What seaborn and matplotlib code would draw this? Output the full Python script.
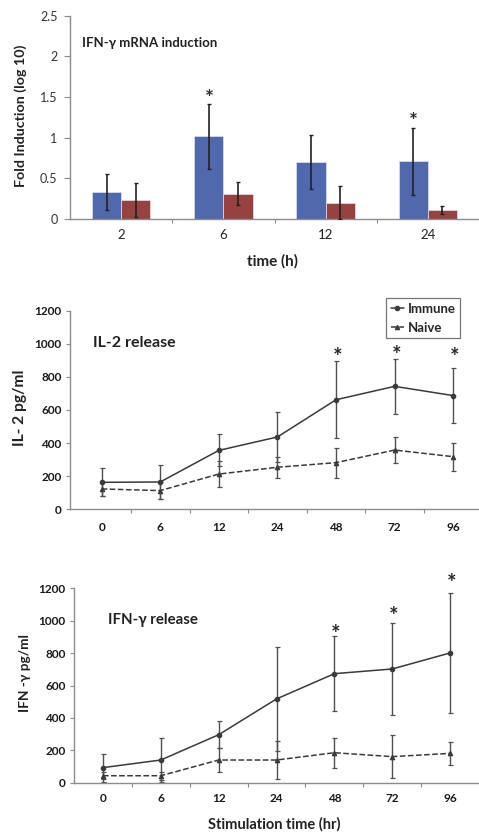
import numpy as np
import pandas as pd
import matplotlib
matplotlib.use("Agg")
import matplotlib.pyplot as plt
import seaborn as sns
from matplotlib.ticker import FixedLocator

sns.set_theme(style="white")
plt.rcParams['font.family'] = ['Lato', 'DejaVu Sans']

# ---------------- data ----------------
mrna_times = ["2", "6", "12", "24"]
mrna_immune = [0.33, 1.02, 0.70, 0.71]
mrna_immune_err = [0.22, 0.40, 0.33, 0.41]
mrna_naive = [0.23, 0.31, 0.20, 0.11]
mrna_naive_err = [0.21, 0.14, 0.20, 0.05]
mrna_sig = [("6", 1.54), ("24", 1.26)]

stim_times = ["0", "6", "12", "24", "48", "72", "96"]
il2_immune = [163, 165, 356, 437, 662, 743, 687]
il2_immune_err = [85, 103, 97, 149, 232, 165, 168]
il2_naive = [123, 113, 213, 254, 282, 358, 318]
il2_naive_err = [43, 53, 80, 63, 91, 81, 85]
il2_sig = [("48", 952), ("72", 962), ("96", 948)]

ifn_immune = [93, 140, 296, 517, 673, 702, 801]
ifn_immune_err = [87, 134, 82, 319, 232, 284, 370]
ifn_naive = [43, 43, 140, 140, 185, 161, 181]
ifn_naive_err = [22, 25, 73, 119, 92, 131, 71]
ifn_sig = [("48", 947), ("72", 1060), ("96", 1262)]

BLUE = "#5069AD"
RED = "#954240"
LINE = "#3a3a3a"
ERR = "#505050"
SPINE = "#8c8c8c"

fig = plt.figure(figsize=(4.79, 8.32), dpi=100)
W, H = 479.0, 832.0

def add_ax(left, right, top, bottom):
    return fig.add_axes([left / W, 1 - bottom / H, (right - left) / W, (bottom - top) / H])

def star(ax, x, y, size):
    ax.annotate("*", (x, y), xytext=(0, -4), textcoords="offset points",
                ha="center", va="center", fontsize=size, fontweight="bold",
                color="#2a2a2a", annotation_clip=False)

# ---------------- panel 1: bars ----------------
ax1 = add_ax(70, 479, 15.7, 219)
df1 = pd.DataFrame({
    "time": mrna_times * 2,
    "value": mrna_immune + mrna_naive,
    "group": ["Immune"] * 4 + ["Naive"] * 4,
})
sns.barplot(data=df1, x="time", y="value", hue="group", order=mrna_times,
            palette={"Immune": BLUE, "Naive": RED}, errorbar=None,
            width=0.57, gap=0, ax=ax1, legend=False, saturation=1,
            edgecolor="#d9d9e6", linewidth=0.6)
for cont, err in zip(ax1.containers, [mrna_immune_err, mrna_naive_err]):
    xs = [p.get_x() + p.get_width() / 2 for p in cont]
    ys = [p.get_height() for p in cont]
    ax1.errorbar(xs, ys, yerr=err, fmt="none", ecolor="#222222",
                 elinewidth=1.2, capsize=1.5, capthick=1.0, zorder=5)
for t, y in mrna_sig:
    star(ax1, mrna_times.index(t) - 0.14, y, 15)
ax1.text(-0.38, 2.16, "IFN-γ mRNA induction", fontsize=9.5, fontweight="bold",
         color="#222222", va="center")
ax1.set_xlim(-0.5, 3.5)
ax1.set_ylim(0, 2.5)
ax1.set_yticks([0, 0.5, 1, 1.5, 2, 2.5])
ax1.set_yticklabels(["0", "0.5", "1", "1.5", "2", "2.5"])
ax1.xaxis.set_minor_locator(FixedLocator([0.5, 1.5, 2.5, 3.5]))
ax1.tick_params(axis="y", left=True, length=4, width=0.8, color=SPINE,
                labelsize=9, labelcolor="#333333", pad=5)
ax1.tick_params(axis="x", which="major", bottom=False, length=0, labelsize=9.5,
                labelcolor="#222222", pad=7)
ax1.tick_params(axis="x", which="minor", bottom=True, length=3, width=0.8,
                color=SPINE, direction="out")
ax1.set_xlabel("time (h)", fontsize=11, fontweight="bold", color="#222222")
ax1.set_ylabel("Fold Induction (log 10)", fontsize=10.3, fontweight="bold",
               color="#222222")
ax1.xaxis.set_label_coords(0.494, -0.175)
ax1.yaxis.set_label_coords(-0.105, 0.507)
for s in ["top", "right"]:
    ax1.spines[s].set_visible(False)
for s in ["left", "bottom"]:
    ax1.spines[s].set_color(SPINE)
    ax1.spines[s].set_linewidth(1.0)


# ---------------- line panels ----------------
def line_panel(ax, imm, imm_err, nai, nai_err, sig, title, title_xy, title_size,
               ylabel, ylabel_y, ylabel_size, xpad, xlabel=None, legend=False):
    df = pd.DataFrame({
        "time": stim_times * 2,
        "value": imm + nai,
        "group": ["Immune"] * len(stim_times) + ["Naive"] * len(stim_times),
    })
    sns.pointplot(data=df, x="time", y="value", hue="group", order=stim_times,
                  palette={"Immune": LINE, "Naive": LINE},
                  markers=["o", "^"], linestyles=["-", "--"],
                  errorbar=None, markersize=3.2, linewidth=1.1, ax=ax,
                  legend=legend)
    xs = np.arange(len(stim_times))
    ax.errorbar(xs, imm, yerr=imm_err, fmt="none", ecolor=ERR,
                elinewidth=1.0, capsize=1.8, capthick=0.9, zorder=1)
    ax.errorbar(xs, nai, yerr=nai_err, fmt="none", ecolor=ERR,
                elinewidth=1.0, capsize=1.8, capthick=0.9, zorder=1)
    for t, y in sig:
        star(ax, stim_times.index(t) + 0.03, y, 16)
    ax.text(title_xy[0], title_xy[1], title, fontsize=title_size, fontweight="bold",
            color="#222222", va="center")
    ax.set_ylim(0, 1200)
    yt = list(range(0, 1201, 200))
    ax.set_yticks(yt, [str(v) for v in yt], fontweight="bold")
    ax.set_xticks(xs, stim_times, fontweight="bold")
    ax.xaxis.set_minor_locator(FixedLocator(np.arange(0.5, 6.5, 1.0)))
    ax.tick_params(axis="y", left=True, length=3, width=0.8, color=SPINE,
                   labelsize=8.5, labelcolor="#1a1a1a", pad=3)
    ax.tick_params(axis="x", which="major", bottom=False, length=0, labelsize=8.5,
                   labelcolor="#1a1a1a", pad=xpad)
    ax.tick_params(axis="x", which="minor", bottom=True, length=3, width=0.8,
                   color=SPINE, direction="out")
    ax.set_ylabel(ylabel, fontsize=ylabel_size, fontweight="bold", color="#222222")
    ax.yaxis.set_label_coords(-0.105, ylabel_y)
    if xlabel:
        ax.set_xlabel(xlabel, fontsize=10.5, fontweight="bold", color="#222222")
        ax.xaxis.set_label_coords(0.494, -0.175)
    else:
        ax.set_xlabel("")
    for s in ["top", "right"]:
        ax.spines[s].set_visible(False)
    for s in ["left", "bottom"]:
        ax.spines[s].set_color(SPINE)
        ax.spines[s].set_linewidth(1.0)


ax2 = add_ax(70, 479, 310.7, 509.3)
line_panel(ax2, il2_immune, il2_immune_err, il2_naive, il2_naive_err,
           il2_sig, "IL-2 release", (-0.15, 1007), 11.5, "IL- 2 pg/ml", 0.51,
           11.2, 9.3, legend=True)
ax2.set_xlim(-0.54, 6.44)
handles, labels = ax2.get_legend_handles_labels()
leg = ax2.legend(handles, labels, loc="upper right",
                 bbox_to_anchor=(0.9704, 1.095),
                 frameon=True, fancybox=False, handlelength=1.0,
                 handletextpad=0.3, borderpad=0.35, labelspacing=0.5,
                 prop={"weight": "bold", "size": 9.5})
leg.get_frame().set_edgecolor("#555555")
leg.get_frame().set_linewidth(0.9)

ax3 = add_ax(74, 479, 588.3, 782.7)
line_panel(ax3, ifn_immune, ifn_immune_err, ifn_naive, ifn_naive_err,
           ifn_sig, "IFN-γ release", (0.09, 1004), 10.8, "IFN -γ pg/ml", 0.564,
           9.8, 7.5, xlabel="Stimulation time (hr)")
ax3.set_xlim(-0.5, 6.5)

fig.savefig("out.png", dpi=100)
